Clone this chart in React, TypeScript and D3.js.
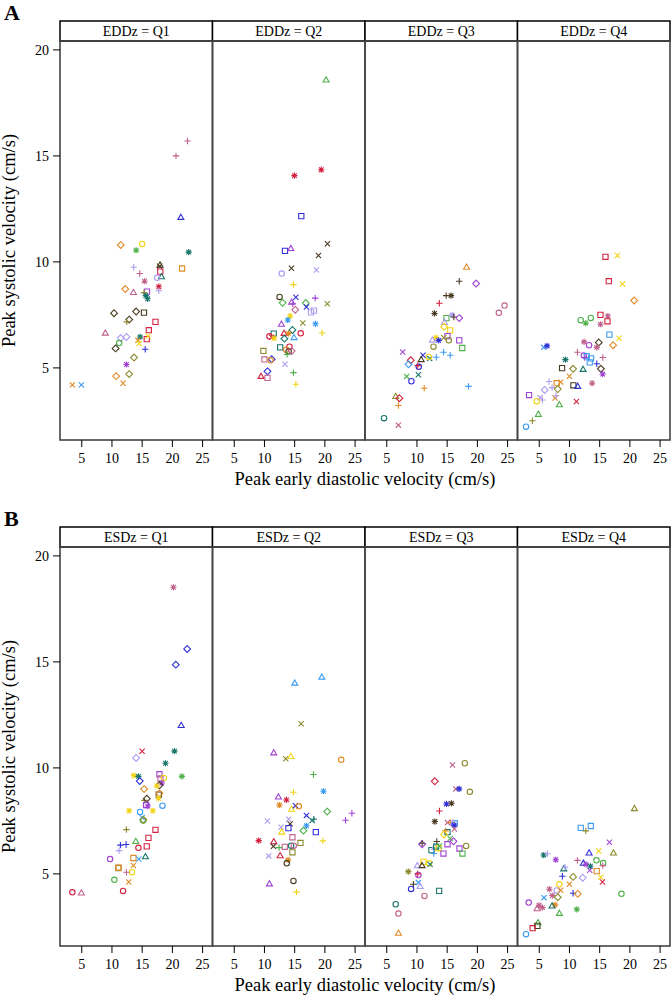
import React from "react";
import * as d3 from "d3";

type Pt = [number, number, string];

const quartiles = ["Q1", "Q2", "Q3", "Q4"];
const xTicks = [5, 10, 15, 20, 25];
const yTicks = [5, 10, 15, 20];

// [x, y, subject code (colour letter + symbol letter)]
const eddQ1: Pt[] = [[22.5,15.7,"Mp"],[20.6,15.0,"Mp"],[21.4,12.1,"Bt"],[11.45,10.8,"Od"],[15.0,10.85,"Yc"],[14.0,10.55,"Ga"],[22.7,10.46,"Ta"],[13.6,9.75,"Lp"],[17.9,9.8,"Kx"],[17.95,9.85,"Kt"],[18.0,9.54,"Rs"],[21.6,9.69,"Os"],[14.6,9.45,"Mp"],[18.2,9.3,"Tt"],[17.5,9.25,"Lc"],[15.4,9.09,"Ma"],[17.75,8.83,"Ra"],[17.75,8.64,"Lp"],[12.2,8.72,"Od"],[13.55,8.56,"Mt"],[15.8,8.6,"Ps"],[15.3,8.55,"Vp"],[15.6,8.41,"Ta"],[15.9,8.26,"Ta"],[10.35,7.58,"Kd"],[14.0,7.66,"Kd"],[15.3,7.61,"Ks"],[12.85,7.28,"Kd"],[12.45,7.17,"Vp"],[17.2,7.17,"Rs"],[8.9,6.64,"Mt"],[16.1,6.78,"Rs"],[11.45,6.41,"Ld"],[12.4,6.46,"Ld"],[14.66,6.46,"Ta"],[14.3,6.3,"Ox"],[15.76,6.36,"Rs"],[16.0,6.5,"Yx"],[14.5,6.15,"Yx"],[11.2,6.17,"Gc"],[10.6,5.92,"Kd"],[15.5,5.88,"Bp"],[13.66,5.49,"Vd"],[12.4,5.16,"Pa"],[10.7,4.61,"Od"],[12.85,4.71,"Vd"],[11.84,4.28,"Ox"],[3.45,4.2,"Ox"],[4.94,4.2,"Sx"]];

const eddQ2: Pt[] = [[20.2,18.58,"Gt"],[14.96,14.07,"Ra"],[19.4,14.35,"Ra"],[16.1,12.16,"Bs"],[13.4,10.52,"Bs"],[14.36,10.63,"Pt"],[20.43,10.86,"Kx"],[18.94,10.3,"Kx"],[14.47,9.7,"Kx"],[18.6,9.62,"Lx"],[12.86,9.45,"Lc"],[14.8,8.93,"Yp"],[12.5,8.35,"Kc"],[13.0,8.07,"Gd"],[15.2,8.33,"Bx"],[14.5,8.1,"Pt"],[14.7,8.03,"Pp"],[15.1,7.74,"Md"],[16.84,8.06,"Gd"],[18.4,8.29,"Pp"],[20.4,8.03,"Vx"],[16.95,7.87,"Bx"],[17.7,7.62,"Ls"],[18.2,7.7,"Ls"],[14.25,7.45,"Ya"],[13.86,7.26,"Sa"],[12.8,7.06,"Pt"],[16.35,7.12,"Vx"],[18.45,7.08,"Sa"],[14.63,6.79,"Td"],[11.54,6.62,"Ts"],[13.25,6.63,"Rt"],[13.97,6.63,"Oa"],[16.0,6.63,"Rc"],[19.55,6.65,"Yp"],[10.82,6.49,"Rc"],[11.2,6.45,"Rx"],[11.6,6.4,"Ya"],[13.3,6.38,"Td"],[14.9,6.43,"St"],[12.6,5.97,"Ts"],[14.13,6.0,"Rc"],[13.6,5.86,"Oc"],[14.0,5.78,"Kc"],[14.5,5.8,"Md"],[13.75,5.64,"Gp"],[9.83,5.8,"Vs"],[10.0,5.4,"Ms"],[11.2,5.41,"Bd"],[11.0,5.36,"Oc"],[13.4,5.17,"Lx"],[14.8,4.78,"Gp"],[10.5,4.84,"Bd"],[9.44,4.6,"Rt"],[10.5,4.53,"Ms"],[15.2,4.23,"Yp"]];

const eddQ3: Pt[] = [[18.2,9.75,"Ot"],[17.0,9.09,"Kp"],[19.8,8.98,"Pd"],[14.83,8.41,"Kp"],[15.65,8.41,"Ka"],[13.7,8.05,"Rp"],[24.5,7.94,"Mc"],[23.55,7.6,"Mc"],[12.9,7.57,"Ka"],[14.88,7.35,"Gs"],[15.82,7.5,"La"],[16.1,7.4,"Kp"],[17.0,7.35,"Pd"],[14.55,7.15,"Lt"],[14.5,6.94,"Yd"],[15.5,6.77,"Ys"],[15.05,6.5,"Ps"],[17.0,6.3,"Ps"],[15.27,6.3,"Vc"],[14.44,6.42,"Vx"],[13.17,6.43,"Ya"],[13.6,6.3,"Ba"],[12.56,6.31,"Lt"],[12.73,6.0,"Vc"],[17.5,5.94,"Gs"],[14.4,5.74,"Sp"],[15.5,5.6,"Sp"],[13.2,5.5,"Sp"],[12.1,5.44,"Tx"],[11.95,5.52,"Yc"],[11.0,5.6,"Bx"],[10.7,5.39,"Kt"],[7.64,5.75,"Px"],[8.97,5.36,"Rd"],[8.6,5.17,"Sd"],[10.3,5.05,"Bc"],[10.13,5.11,"Rp"],[8.3,4.6,"Gx"],[10.24,4.68,"Tx"],[9.08,4.37,"Bc"],[11.2,4.04,"Op"],[18.53,4.13,"Sp"],[6.48,3.65,"Vt"],[7.09,3.57,"Rd"],[6.93,3.23,"Op"],[4.55,2.63,"Tc"],[6.93,2.3,"Mx"]];

const eddQ4: Pt[] = [[15.96,10.24,"Rs"],[17.95,10.3,"Yx"],[16.51,9.09,"Rs"],[18.78,8.96,"Yx"],[20.71,8.18,"Od"],[11.87,7.25,"Gc"],[13.53,7.36,"Gc"],[12.7,7.11,"Ga"],[15.13,7.5,"Rs"],[16.35,7.45,"Ma"],[16.29,7.2,"Rs"],[15.13,7.06,"Ma"],[16.62,6.57,"Ss"],[18.22,6.4,"Yx"],[5.74,5.97,"Sx"],[6.29,6.04,"Ba"],[12.42,6.23,"Ma"],[13.25,6.07,"Pc"],[14.85,6.2,"Kd"],[14.52,5.97,"Ma"],[17.23,6.07,"Od"],[11.32,5.74,"Mp"],[12.37,5.58,"Pc"],[12.86,5.55,"Ss"],[13.58,5.45,"Ss"],[13.36,5.26,"Ss"],[12.53,5.49,"Pp"],[15.52,5.49,"Mp"],[9.33,5.39,"Ta"],[14.52,5.2,"Bp"],[8.78,4.99,"Ks"],[10.6,4.96,"Vd"],[12.26,4.93,"Tt"],[15.2,4.96,"Kd"],[15.5,4.71,"Pa"],[9.99,4.61,"Ox"],[6.62,4.36,"Lp"],[7.89,4.28,"Os"],[8.55,4.33,"Ox"],[7.12,4.07,"Lp"],[8.06,4.0,"Vd"],[10.65,4.18,"Ks"],[11.37,4.13,"Bt"],[13.75,4.28,"Ma"],[3.31,3.72,"Ps"],[5.9,3.96,"Ld"],[5.13,3.6,"Lx"],[5.52,3.49,"Lp"],[7.62,3.58,"Ox"],[7.78,3.69,"Lp"],[4.58,3.43,"Yc"],[8.33,3.26,"Gt"],[11.15,3.42,"Rx"],[4.85,2.81,"Gt"],[3.86,2.51,"Vp"],[2.81,2.23,"Sc"]];

const esdQ1: Pt[] = [[20.18,18.52,"Ma"],[22.45,15.61,"Bd"],[20.57,14.87,"Bd"],[21.46,12.0,"Bt"],[14.99,10.79,"Rx"],[20.35,10.79,"Ta"],[14.0,10.47,"Ld"],[18.86,10.22,"Ta"],[13.61,9.64,"Ya"],[14.38,9.6,"Ta"],[14.6,9.38,"Bd"],[17.86,9.7,"Ps"],[18.03,9.5,"Ms"],[18.58,9.53,"Yc"],[18.25,9.29,"Pa"],[17.86,9.18,"Kd"],[17.42,9.15,"Ya"],[21.57,9.6,"Ga"],[15.32,9.0,"Od"],[17.75,8.74,"Ks"],[17.86,8.8,"Od"],[17.7,8.57,"Ya"],[15.38,8.47,"Vp"],[15.76,8.55,"Kd"],[15.65,8.25,"Ps"],[15.93,8.2,"Pa"],[18.36,8.22,"Sc"],[12.84,7.98,"Ya"],[16.76,7.98,"Ya"],[14.66,7.92,"Sc"],[14.99,7.66,"Sx"],[15.16,7.52,"Gc"],[15.2,7.55,"Vd"],[12.39,7.09,"Vp"],[17.2,7.08,"Rs"],[16.04,6.7,"Rs"],[13.94,6.53,"Gt"],[11.4,6.36,"Bp"],[12.34,6.39,"Bp"],[14.38,6.23,"Rc"],[15.76,6.3,"Rs"],[11.18,6.1,"Lp"],[9.69,5.7,"Pc"],[13.55,5.75,"Os"],[14.44,5.7,"Sx"],[15.54,5.81,"Tt"],[13.55,5.4,"Ox"],[11.07,5.28,"Vs"],[11.1,5.3,"Os"],[13.33,5.08,"Yc"],[12.39,5.08,"Mp"],[10.4,4.72,"Gc"],[12.78,4.62,"Ox"],[11.84,4.2,"Rc"],[3.44,4.13,"Rc"],[4.94,4.1,"Mt"]];

const esdQ2: Pt[] = [[15.02,14.0,"St"],[19.5,14.28,"St"],[16.07,12.08,"Vx"],[11.54,10.71,"Pt"],[13.53,10.43,"Vx"],[14.36,10.54,"Yt"],[22.7,10.38,"Oc"],[18.11,9.69,"Gp"],[14.8,8.85,"Yp"],[19.77,8.9,"Sa"],[12.31,8.63,"Pt"],[13.64,8.49,"Ra"],[12.48,8.25,"Oa"],[14.47,8.05,"Yt"],[15.13,8.22,"Bx"],[15.68,8.19,"Oc"],[16.95,7.76,"Bx"],[20.38,7.94,"Gd"],[24.47,7.86,"Pp"],[23.42,7.53,"Pp"],[17.89,7.52,"Tx"],[18.17,7.58,"Tp"],[10.49,7.5,"Lx"],[14.02,7.58,"Lx"],[14.25,7.36,"Kx"],[13.97,7.16,"Bs"],[12.75,7.2,"Lx"],[16.95,7.27,"Sa"],[12.86,6.97,"Yt"],[16.45,7.04,"Gd"],[18.5,6.97,"Bs"],[9.05,6.57,"Ra"],[11.54,6.52,"Rt"],[14.63,6.73,"Ms"],[19.66,6.56,"Yp"],[11.48,6.3,"Kx"],[13.36,6.28,"Ms"],[14.41,6.33,"Tc"],[14.85,6.33,"Mc"],[15.96,6.46,"Vs"],[12.42,6.24,"Gp"],[14.63,6.02,"Vs"],[10.71,5.85,"Lx"],[12.59,5.86,"Rt"],[13.91,5.66,"Oa"],[13.69,5.5,"Kc"],[14.8,4.67,"Kc"],[10.82,4.53,"Pt"],[15.3,4.14,"Yp"]];

const esdQ3: Pt[] = [[15.88,10.14,"Mx"],[17.92,10.22,"Vc"],[12.95,9.37,"Rd"],[16.43,9.01,"Mx"],[16.98,9.01,"Ba"],[18.75,8.87,"Vc"],[14.88,8.3,"Ba"],[15.71,8.33,"Ka"],[13.72,7.97,"Rp"],[12.95,7.47,"Ka"],[15.05,7.42,"Mx"],[15.54,7.42,"Op"],[16.26,7.39,"Ss"],[15.99,7.4,"Lt"],[16.15,7.3,"Ba"],[16.2,7.12,"Mx"],[15.05,6.97,"Ts"],[14.72,7.03,"Op"],[14.5,6.86,"Yd"],[15.49,6.67,"Gx"],[10.85,6.4,"Pd"],[10.85,6.45,"Kp"],[13.28,6.53,"Kp"],[15.05,6.4,"Ps"],[16.04,6.54,"Pd"],[18.14,6.32,"Vc"],[17.04,6.2,"Ps"],[12.4,6.12,"Ts"],[12.95,6.26,"Lt"],[13.17,6.29,"Ts"],[13.56,6.21,"Ys"],[13.72,6.32,"Gx"],[12.78,5.96,"Sp"],[14.38,5.96,"Ps"],[17.53,5.96,"Gs"],[11.07,5.57,"Ys"],[12.0,5.5,"Yc"],[10.07,5.39,"Lt"],[10.85,5.39,"Kt"],[12.17,5.45,"Tx"],[8.58,5.11,"Va"],[10.24,4.95,"Pc"],[10.13,5.0,"Rp"],[9.41,4.51,"Kp"],[10.24,4.59,"Sx"],[10.52,4.41,"Lt"],[9.03,4.29,"Bc"],[11.24,3.96,"Mc"],[13.67,4.2,"Ts"],[6.48,3.57,"Tc"],[6.93,3.13,"Mc"],[6.93,2.2,"Ot"]];

const esdQ4: Pt[] = [[20.76,8.08,"Vt"],[11.87,7.17,"Ss"],[13.53,7.26,"Ss"],[12.7,7.03,"Vp"],[16.62,6.49,"Px"],[14.85,6.08,"Yx"],[17.28,5.99,"Vt"],[13.25,5.99,"Bt"],[5.74,5.89,"Ta"],[6.35,5.95,"Lp"],[7.73,5.67,"Pa"],[11.32,5.64,"Mp"],[14.47,5.64,"Gc"],[15.57,5.51,"Gc"],[12.31,5.5,"Bt"],[12.75,5.45,"Pa"],[13.47,5.36,"Ta"],[15.52,5.39,"Mp"],[13.36,5.17,"Px"],[9.05,5.24,"Tt"],[9.27,5.32,"Lp"],[8.83,4.89,"Bp"],[10.6,4.86,"Vd"],[14.52,5.13,"Os"],[15.19,4.84,"Yx"],[15.46,4.62,"Rx"],[12.2,4.82,"Ld"],[8.33,4.51,"Yc"],[9.99,4.51,"Ox"],[6.68,4.28,"Ma"],[7.89,4.22,"Lc"],[8.55,4.23,"Ox"],[7.17,3.98,"Ma"],[8.06,3.9,"Vd"],[10.6,4.09,"Bp"],[11.37,4.06,"Od"],[18.61,4.06,"Gc"],[5.79,3.88,"Sx"],[3.25,3.65,"Pc"],[4.96,3.52,"Ma"],[5.52,3.41,"Ma"],[4.63,3.36,"Mt"],[7.62,3.54,"Oa"],[7.12,3.49,"Tt"],[11.21,3.33,"Ga"],[8.33,3.14,"Gt"],[4.8,2.7,"Gt"],[4.69,2.55,"Ks"],[3.91,2.44,"Rs"],[2.81,2.16,"Sc"]];

const colorOf: Record<string, string> = {
  R: "#D4213F", O: "#E08A25", Y: "#F2D417", G: "#4FB04A", V: "#8C8A2E", T: "#17756A",
  B: "#3030D8", S: "#3C9BF0", P: "#A043D3", L: "#AE9CF2", M: "#C0628C", K: "#4A3A22",
};

const FONT = "'Liberation Serif', 'Times New Roman', serif";

function symbolPath(t: string): string {
  switch (t) {
    case "s": return "M-2.6,-2.6H2.6V2.6H-2.6Z";
    case "t": return "M0,-3.2L3,2L-3,2Z";
    case "p": return "M-3.2,0H3.2M0,-3.2V3.2";
    case "x": return "M-2.6,-2.6L2.6,2.6M-2.6,2.6L2.6,-2.6";
    case "d": return "M0,-3.4L3.4,0L0,3.4L-3.4,0Z";
    case "a": return "M-3.1,0H3.1M0,-3.1V3.1M-2.3,-2.3L2.3,2.3M-2.3,2.3L2.3,-2.3";
    default: return "";
  }
}

const PLOT_L = 60;
const PLOT_R = 670;
const PANEL_W = (PLOT_R - PLOT_L) / 4;
const X_DOMAIN: [number, number] = [1.4, 26.64];
const Y_DOMAIN: [number, number] = [1.6, 20.42];

function Block({ top, letter, varName, panels }: { top: number; letter: string; varName: string; panels: Pt[][] }) {
  const stripTop = top + 21;
  const panelTop = top + 41;
  const panelBottom = top + 440;
  const y = d3.scaleLinear().domain(Y_DOMAIN).range([panelBottom, panelTop]);
  return (
    <g>
      <text x={4} y={top + 20} fontFamily={FONT} fontWeight="bold" fontSize={22}>{letter}</text>
      {panels.map((pts, i) => {
        const x0 = PLOT_L + i * PANEL_W;
        const x = d3.scaleLinear().domain(X_DOMAIN).range([x0, x0 + PANEL_W]);
        return (
          <g key={i}>
            <rect x={x0} y={stripTop} width={PANEL_W} height={panelTop - stripTop} fill="#fff" stroke="#000" strokeWidth={1.5} />
            <text x={x0 + PANEL_W / 2} y={stripTop + 15} textAnchor="middle" fontFamily={FONT} fontSize={14}>{`${varName} = ${quartiles[i]}`}</text>
            <rect x={x0} y={panelTop} width={PANEL_W} height={panelBottom - panelTop} fill="none" stroke="#444" strokeWidth={1.6} />
            {pts.map((p, j) => {
              const col = colorOf[p[2][0]];
              const sym = p[2][1];
              const cx = x(p[0]);
              const cy = y(p[1]);
              return sym === "c" ? (
                <circle key={j} cx={cx} cy={cy} r={2.7} fill="none" stroke={col} strokeWidth={1.1} />
              ) : (
                <path key={j} d={symbolPath(sym)} transform={`translate(${cx},${cy})`} fill="none" stroke={col} strokeWidth={1.1} />
              );
            })}
            {xTicks.map((t) => (
              <g key={t}>
                <line x1={x(t)} x2={x(t)} y1={panelBottom} y2={panelBottom + 7} stroke="#000" strokeWidth={1} />
                <text x={x(t)} y={panelBottom + 23} textAnchor="middle" fontFamily={FONT} fontSize={14}>{t}</text>
              </g>
            ))}
          </g>
        );
      })}
      {yTicks.map((t) => (
        <g key={t}>
          <line x1={PLOT_L - 7} x2={PLOT_L} y1={y(t)} y2={y(t)} stroke="#000" strokeWidth={1} />
          <text x={PLOT_L - 11} y={y(t) + 5} textAnchor="end" fontFamily={FONT} fontSize={14}>{t}</text>
        </g>
      ))}
      <text transform={`translate(15,${(panelTop + panelBottom) / 2}) rotate(-90)`} textAnchor="middle" fontFamily={FONT} fontSize={18.5}>Peak systolic velocity (cm/s)</text>
      <text x={(PLOT_L + PLOT_R) / 2} y={panelBottom + 45} textAnchor="middle" fontFamily={FONT} fontSize={18.5}>Peak early diastolic velocity (cm/s)</text>
    </g>
  );
}

export default function App() {
  return (
    <svg width={671} height={1002} style={{ position: "absolute", left: 0, top: 0, background: "#fff" }}>
      <rect width={671} height={1002} fill="#fff" />
      <Block top={0} letter="A" varName="EDDz" panels={[eddQ1, eddQ2, eddQ3, eddQ4]} />
      <Block top={506} letter="B" varName="ESDz" panels={[esdQ1, esdQ2, esdQ3, esdQ4]} />
    </svg>
  );
}
